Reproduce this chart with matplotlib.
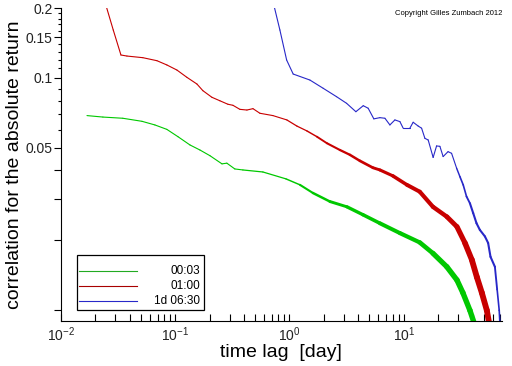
import numpy as np
import matplotlib
matplotlib.use("Agg")
import matplotlib.pyplot as plt
from matplotlib.collections import LineCollection
from matplotlib.ticker import LogLocator, FixedLocator, FuncFormatter, NullFormatter

plt.rcParams["font.family"] = ["Liberation Sans", "DejaVu Sans"]

# 00:03 series
lag_0003 = [0.0169, 0.0233, 0.0348, 0.0512, 0.0664, 0.0845, 0.1057, 0.1346, 0.1644,
            0.2014, 0.2566, 0.283, 0.3325, 0.391, 0.585, 0.931, 1.233, 1.603, 2.256,
            3.18, 4.39, 6.18, 9.25, 13.8, 18.0, 23.8, 29.2, 32.9, 37.9, 41.0]
corr_0003 = [0.0689, 0.0679, 0.0671, 0.0651, 0.0628, 0.0601, 0.0559, 0.0515, 0.0490,
             0.0463, 0.0427, 0.0430, 0.0406, 0.0402, 0.0394, 0.0368, 0.0347, 0.0320, 0.0294,
             0.0279, 0.0258, 0.0237, 0.0215, 0.0196, 0.0176, 0.0154, 0.0135, 0.0119, 0.0100, 0.0089]
noise_0003 = [1, 1, 1, 1, 1, 1, 1, 1, 1, 1, 1, 1, 1, 1.5, 1.5, 1.5, 2, 3, 3,
              4, 4, 4.5, 5, 5, 6, 6.5, 6.5, 6.5, 6.5, 6.5]

# 01:00 series
lag_0100 = [0.0248, 0.0287, 0.0335, 0.0378, 0.0521, 0.0692, 0.0845, 0.1035, 0.1264, 0.1549,
            0.1746, 0.2094, 0.246, 0.289, 0.320, 0.368, 0.424, 0.479, 0.551, 0.716,
            0.948, 1.161, 1.419, 1.737, 2.124, 2.76, 3.38, 4.13, 5.37, 6.18,
            8.03, 10.64, 13.8, 18.0, 23.8, 29.2, 34.3, 39.4, 43.6, 48.2, 53.3, 55.6]
corr_0100 = [0.205, 0.1609, 0.1256, 0.1243, 0.1223, 0.1187, 0.1138, 0.1082, 0.1007, 0.0942,
             0.0882, 0.0826, 0.0798, 0.0771, 0.0763, 0.0733, 0.0728, 0.0738, 0.0705, 0.0689,
             0.0660, 0.0621, 0.0592, 0.0559, 0.0524, 0.0490, 0.0467, 0.0440, 0.0411, 0.0402,
             0.0379, 0.0347, 0.0324, 0.0279, 0.0253, 0.0229, 0.0195, 0.0165, 0.0139, 0.0119,
             0.0100, 0.0089]
noise_0100 = [1] * 20 + [1.5, 1.5, 1.5, 2, 2.5, 2.5, 3, 3, 3.5, 3.5,
                         4, 4.5, 5, 5, 5.5, 6, 6.5, 7, 7, 7, 7, 7]

# 1d 06:30 series
lag_1d = [0.735, 0.824, 0.944, 1.077, 1.508, 1.972, 2.58, 3.16, 3.81, 4.42,
          4.88, 5.47, 6.18, 6.84, 7.56, 8.36, 9.25, 9.88, 11.3, 12.08,
          13.37, 14.32, 15.3, 16.35, 18.07, 19.36, 20.7, 22.1, 24.4, 26.2,
          29.0, 31.0, 33.1, 35.4, 37.9, 40.5, 43.3, 46.3, 51.3, 54.7,
          57.4, 62.7, 65.6, 68.4, 69.3]
corr_1d = [0.203, 0.1609, 0.1195, 0.1040, 0.0980, 0.0903, 0.0831, 0.0778, 0.0716, 0.0760,
           0.0741, 0.0667, 0.0675, 0.0671, 0.0628, 0.0660, 0.0649, 0.0608, 0.0608, 0.0645,
           0.0621, 0.0608, 0.0550, 0.0541, 0.0455, 0.0510, 0.0508, 0.0459, 0.0482, 0.0474,
           0.0409, 0.0376, 0.0347, 0.0309, 0.0289, 0.0262, 0.0237, 0.0222, 0.0208, 0.0195,
           0.0170, 0.0154, 0.0123, 0.0100, 0.0089]
noise_1d = [1] * 30 + [1.5, 2, 2, 2, 2.5, 2.5, 2.5, 2.5, 2.5, 2.5, 2.5, 2.5, 2, 2, 2]

labels = ["00:03", "01:00", "1d 06:30"]
colors = ["#00c800", "#c80000", "#2828c8"]
thin_colors = ["#22aa22", "#a80000", "#2828c8"]

y_labeled = [0.05, 0.1, 0.15, 0.2]
y_major = [0.01, 0.02, 0.03, 0.04, 0.05, 0.1, 0.15, 0.2]
y_minor = [0.06, 0.07, 0.08, 0.09, 0.11, 0.12, 0.13, 0.14, 0.16, 0.17, 0.18, 0.19]


def draw_trace(ax, x, y, w, color):
    pts = np.column_stack([x, y])
    segs = np.stack([pts[:-1], pts[1:]], axis=1)
    w = np.asarray(w, dtype=float) * 0.6
    lw = np.maximum((w[:-1] + w[1:]) / 2, 0.8)
    lc = LineCollection(segs, linewidths=lw, colors=color,
                        capstyle="round", joinstyle="round")
    ax.add_collection(lc)


fig = plt.figure(figsize=(5.12, 3.66), dpi=100)
ax = fig.add_axes([0.119, 0.123, 0.861, 0.855])
ax.set_xscale("log")
ax.set_yscale("log")

series = [(lag_0003, corr_0003, noise_0003),
          (lag_0100, corr_0100, noise_0100),
          (lag_1d, corr_1d, noise_1d)]
for (x, y, w), c in zip(series, colors):
    draw_trace(ax, x, y, w, c)

ax.set_xlim(0.01, 72)
ax.set_ylim(0.009, 0.2)

for s in ["top", "right"]:
    ax.spines[s].set_visible(False)

ax.xaxis.set_major_locator(LogLocator(base=10))
ax.xaxis.set_minor_locator(LogLocator(base=10, subs=np.arange(2, 10)))
ax.xaxis.set_minor_formatter(NullFormatter())
ax.yaxis.set_major_locator(FixedLocator(y_major))
ax.yaxis.set_major_formatter(FuncFormatter(
    lambda v, p: ("%g" % v) if any(abs(v - t) < 1e-9 for t in y_labeled) else ""))
ax.yaxis.set_minor_locator(FixedLocator(y_minor))
ax.yaxis.set_minor_formatter(NullFormatter())

ax.tick_params(axis="x", which="both", direction="in", length=5, width=0.8,
               labelsize=10, labelcolor="#222222", pad=3)
ax.tick_params(axis="y", which="major", direction="out", length=5, width=0.8,
               labelsize=10, labelcolor="#222222", pad=1)
ax.tick_params(axis="y", which="minor", direction="out", length=2.5, width=0.8)

ax.set_xlabel("time lag  [day]", fontsize=14, labelpad=0)
ax.set_ylabel("correlation for the absolute return", fontsize=14, labelpad=2)

# legend box drawn by hand so labels are right aligned
ax.add_patch(plt.Rectangle((0.036, 0.035), 0.288, 0.176, transform=ax.transAxes,
                           fill=False, edgecolor="black", linewidth=0.9))
for i, (lab, c) in enumerate(zip(labels, thin_colors)):
    yy = 0.160 - i * 0.048
    ax.plot([0.041, 0.172], [yy, yy], color=c, linewidth=0.8, transform=ax.transAxes)
    ax.text(0.315, yy, lab, ha="right", va="center", fontsize=8.5,
            transform=ax.transAxes)

fig.text(0.982, 0.962, "Copyright Gilles Zumbach 2012", ha="right", va="center",
         fontsize=5.5)

fig.savefig("out.png", dpi=100)
